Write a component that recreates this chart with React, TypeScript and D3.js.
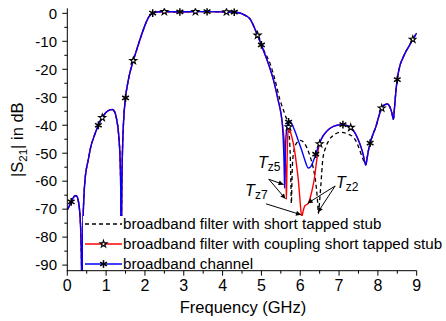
import React from "react";
import * as d3 from "d3";

type Pt = [number, number];

// Response shared by all three filters below 5 GHz (frequency GHz, |S21| dB)
const commonLow: Pt[] = [
  [0.0, -70.2], [0.05, -68.9], [0.1, -67.4], [0.15, -66.0], [0.2, -65.2], [0.24, -65.3],
  [0.28, -66.8], [0.31, -69.5], [0.335, -74], [0.355, -82], [0.37, -95], [0.375, -105],
  [0.385, -95], [0.395, -82], [0.41, -72], [0.43, -65], [0.456, -59.5], [0.5, -55],
  [0.54, -52.4], [0.6, -48], [0.7, -43.6], [0.8, -40.0], [0.9, -37.3], [1.0, -35.4],
  [1.1, -34.5], [1.16, -34.4], [1.22, -35.2], [1.27, -37.8], [1.31, -41.5], [1.34, -46.5],
  [1.36, -52], [1.375, -62], [1.385, -80], [1.39, -100], [1.395, -80], [1.405, -62],
  [1.42, -50], [1.45, -38.5], [1.49, -31.2], [1.55, -25.5], [1.6, -22], [1.7, -16.9],
  [1.8, -12.5], [1.9, -8.2], [2.0, -4.3], [2.1, -1.3], [2.2, 0.1], [2.3, 0.5], [2.5, 0.6],
  [2.9, 0.5], [3.3, 0.6], [3.6, 0.6], [4.1, 0.5], [4.3, 0.45], [4.42, 0.2], [4.52, -0.3],
  [4.62, -1.0], [4.7, -1.9], [4.8, -4.5], [4.89, -7.5], [5.0, -11.3],
];

// Upper stopband, common to all three filters
const commonHigh: Pt[] = [
  [7.69, -54.2], [7.72, -52.0], [7.76, -48.8], [7.8, -46.4], [7.88, -43.0], [7.95, -40.5],
  [8.02, -37.0], [8.1, -33.9], [8.18, -32.6], [8.25, -32.4], [8.31, -33.5], [8.36, -35.6],
  [8.4, -37.9], [8.43, -33.5], [8.47, -27.0], [8.51, -22.6], [8.57, -18.6], [8.64, -16.1],
  [8.72, -13.7], [8.8, -11.8], [8.9, -9.3], [9.0, -7.1],
];

// Broadband channel, 5–7.7 GHz
const channelMid: Pt[] = [
  [5.1, -15.0], [5.18, -18.0], [5.31, -23.8], [5.43, -31.0], [5.5, -35.5], [5.54, -40],
  [5.565, -46], [5.58, -52], [5.59, -58], [5.597, -62.5], [5.605, -56], [5.62, -48],
  [5.645, -42], [5.68, -39.2], [5.72, -38.5], [5.77, -39.2], [5.82, -40.6], [5.87, -42.3],
  [5.95, -45.5], [6.04, -49.0], [6.12, -52.5], [6.21, -55.3], [6.28, -54.6], [6.36, -52.0],
  [6.44, -48.7], [6.5, -46.4], [6.58, -44.0], [6.68, -42.2], [6.8, -40.8], [6.95, -40.0],
  [7.1, -39.8], [7.2, -40.1], [7.31, -40.9], [7.42, -43.0], [7.5, -45.4], [7.56, -47.6],
  [7.62, -50.4], [7.66, -53.0],
];

// Filter with coupling short tapped stub, 5–7.7 GHz
const couplingMid: Pt[] = [
  [5.1, -15.0], [5.18, -18.0], [5.31, -23.8], [5.43, -31.0], [5.5, -35.5], [5.55, -40.5],
  [5.59, -46], [5.615, -52], [5.63, -58], [5.645, -66.5], [5.655, -58], [5.665, -50],
  [5.68, -43.5], [5.7, -40.6], [5.73, -41.5], [5.78, -44.0], [5.82, -46.4], [5.87, -50.5],
  [5.91, -54.8], [5.95, -59.5], [5.98, -64.3], [6.01, -69.5], [6.04, -72.8], [6.07, -71.0],
  [6.12, -68.8], [6.19, -68.2], [6.22, -67.6], [6.27, -65.2], [6.32, -62.3], [6.37, -58.5],
  [6.42, -53.0], [6.47, -48.3], [6.52, -45.6], [6.58, -44.0], [6.68, -42.2], [6.8, -40.8],
  [6.95, -40.0], [7.1, -39.8], [7.2, -40.1], [7.31, -40.9], [7.42, -43.0], [7.5, -45.4],
  [7.56, -47.6], [7.62, -50.4], [7.66, -53.0],
];

// Filter with short tapped stub, 5–7.7 GHz
const shortStubMid: Pt[] = [
  [5.1, -14.3], [5.22, -17.8], [5.35, -23.8], [5.48, -31.0], [5.61, -36.3], [5.69, -40.0],
  [5.72, -44], [5.745, -52], [5.76, -61], [5.772, -68], [5.785, -61], [5.8, -54],
  [5.84, -49], [5.91, -46.3], [6.0, -45.4], [6.08, -46.0], [6.17, -48.0], [6.25, -51.0],
  [6.33, -55.0], [6.4, -60.5], [6.44, -66], [6.47, -71.5], [6.5, -67], [6.535, -60.7],
  [6.58, -52.4], [6.66, -47.8], [6.75, -45.2], [6.9, -43.2], [7.05, -42.5], [7.2, -43.0],
  [7.39, -44.6], [7.48, -47.0], [7.56, -50.0], [7.63, -52.6], [7.66, -53.6],
];

// Frequencies carrying symbols
const channelMarkerFreqs = [0.1, 0.8, 1.5, 2.2, 2.9, 3.6, 4.3, 5.0, 5.7, 6.4, 7.1, 7.8, 8.5];
const couplingMarkerFreqs = [0.9, 1.7, 2.5, 3.3, 4.1, 4.9, 5.7, 6.5, 7.3, 8.1, 8.9];

const xTicks = [0, 1, 2, 3, 4, 5, 6, 7, 8, 9];
const xMinorTicks = [0.5, 1.5, 2.5, 3.5, 4.5, 5.5, 6.5, 7.5, 8.5];
const yTicks = [0, -10, -20, -30, -40, -50, -60, -70, -80, -90];
const yMinorTicks = [-5, -15, -25, -35, -45, -55, -65, -75, -85];

const legendLabels = [
  "broadband filter with short tapped stub",
  "broadband filter with coupling short tapped stub",
  "broadband channel",
];

// Transmission-zero callouts (data units)
const zeroNotes = [
  { id: "z5", at: [4.91, -55.3] as Pt, from: [5.19, -59.3] as Pt, to: [[5.57, -61.2], [5.62, -66.3]] as Pt[] },
  { id: "z7", at: [4.58, -65.3] as Pt, from: [5.12, -68.1] as Pt, to: [[6.02, -72.0]] as Pt[] },
  { id: "z2", at: [6.92, -62.4] as Pt, from: [6.9, -61.7] as Pt, to: [[6.19, -67.9], [6.455, -71.1]] as Pt[] },
];

const FONT = "'Liberation Sans', Arial, sans-serif";
const W = 446;
const H = 321;

const x = d3.scaleLinear().domain([0, 9]).range([67.3, 416.7]);
const y = d3.scaleLinear().domain([-92, 1.8]).range([270.7, 8.3]);

const channel = [...commonLow, ...channelMid, ...commonHigh];
const coupling = [...commonLow, ...couplingMid, ...commonHigh];
const shortStub = [...commonLow, ...shortStubMid, ...commonHigh];

const line = d3
  .line<Pt>()
  .x((d) => x(d[0]))
  .y((d) => y(d[1]))
  .curve(d3.curveMonotoneX);

function valueAt(series: Pt[], f: number): number {
  const i = d3.bisector((d: Pt) => d[0]).left(series, f);
  if (i <= 0) return series[0][1];
  if (i >= series.length) return series[series.length - 1][1];
  const a = series[i - 1];
  const b = series[i];
  const t = (f - a[0]) / (b[0] - a[0]);
  return a[1] + t * (b[1] - a[1]);
}

function Asterisk({ cx, cy, r = 3.9 }: { cx: number; cy: number; r?: number }) {
  const arms = [90, 30, -30];
  return (
    <g stroke="#000" strokeWidth={1.5}>
      {arms.map((a) => {
        const rad = (a * Math.PI) / 180;
        const dx = r * Math.cos(rad);
        const dy = r * Math.sin(rad);
        return <line key={a} x1={cx - dx} y1={cy - dy} x2={cx + dx} y2={cy + dy} />;
      })}
    </g>
  );
}

const starPath = d3.symbol(d3.symbolStar, 15)() as string;

function Star({ cx, cy }: { cx: number; cy: number }) {
  return <path d={starPath} transform={`translate(${cx},${cy})`} fill="#fff" stroke="#000" strokeWidth={1.1} />;
}

export default function App() {
  const [x0, x1] = x.range();
  const [yb, yt] = y.range();
  const legendRows = [224, 244, 264];

  return (
    <svg width={W} height={H} style={{ position: "absolute", left: 0, top: 0, background: "#fff" }} fontFamily={FONT}>
      <defs>
        <clipPath id="plot">
          <rect x={x0} y={yt} width={x1 - x0} height={yb - yt} />
        </clipPath>
        <marker id="head" viewBox="0 0 10 10" refX="10" refY="5" markerWidth="7" markerHeight="5" orient="auto" markerUnits="userSpaceOnUse">
          <path d="M0,0 L10,5 L0,10 z" fill="#000" />
        </marker>
      </defs>

      <g clipPath="url(#plot)">
        <path d={line(shortStub) ?? ""} fill="none" stroke="#000" strokeWidth={1.3} strokeDasharray="4,3" />
        <path d={line(coupling) ?? ""} fill="none" stroke="#ff0000" strokeWidth={1.4} />
        <path d={line(channel) ?? ""} fill="none" stroke="#0000ff" strokeWidth={1.4} />
        {couplingMarkerFreqs.map((f) => (
          <Star key={`s${f}`} cx={x(f)} cy={y(valueAt(coupling, f))} />
        ))}
        {channelMarkerFreqs.map((f) => (
          <Asterisk key={`a${f}`} cx={x(f)} cy={y(valueAt(channel, f))} />
        ))}
      </g>

      {/* transmission-zero callouts */}
      {zeroNotes.map((n) => (
        <g key={n.id}>
          <text x={x(n.at[0])} y={y(n.at[1])} fontSize={16} fontStyle="italic">
            T
            <tspan fontStyle="normal" fontSize={12} dy={3}>
              {n.id}
            </tspan>
          </text>
          {n.to.map((p, i) => (
            <line key={i} x1={x(n.from[0])} y1={y(n.from[1])} x2={x(p[0])} y2={y(p[1])} stroke="#000" strokeWidth={1} markerEnd="url(#head)" />
          ))}
        </g>
      ))}

      {/* legend */}
      <rect x={83} y={216} width={W - 83} height={yb - 216} fill="#fff" />
      {legendLabels.map((label, i) => {
        const cy = legendRows[i];
        return (
          <g key={label}>
            {i === 0 && <line x1={85} x2={122} y1={cy} y2={cy} stroke="#000" strokeWidth={1.3} strokeDasharray="4,3" />}
            {i === 1 && (
              <>
                <line x1={85} x2={122} y1={cy} y2={cy} stroke="#ff0000" strokeWidth={1.4} />
                <Star cx={103.5} cy={cy} />
              </>
            )}
            {i === 2 && (
              <>
                <line x1={85} x2={122} y1={cy} y2={cy} stroke="#0000ff" strokeWidth={1.4} />
                <Asterisk cx={103.5} cy={cy} />
              </>
            )}
            <text x={123} y={cy + 5.3} fontSize={15.2}>
              {label}
            </text>
          </g>
        );
      })}

      {/* axes */}
      <g stroke="#000" strokeWidth={1}>
        <line x1={x0} x2={x0} y1={yt} y2={yb + 0.5} />
        <line x1={x0 - 0.5} x2={x1} y1={yb} y2={yb} />
        {xTicks.map((t) => (
          <line key={`xt${t}`} x1={x(t)} x2={x(t)} y1={yb} y2={yb + 5} />
        ))}
        {xMinorTicks.map((t) => (
          <line key={`xm${t}`} x1={x(t)} x2={x(t)} y1={yb} y2={yb + 3} />
        ))}
        {yTicks.map((t) => (
          <line key={`yt${t}`} x1={x0 - 5} x2={x0} y1={y(t)} y2={y(t)} />
        ))}
        {yMinorTicks.map((t) => (
          <line key={`ym${t}`} x1={x0 - 3} x2={x0} y1={y(t)} y2={y(t)} />
        ))}
      </g>
      {xTicks.map((t) => (
        <text key={`xl${t}`} x={x(t)} y={290.5} fontSize={16} textAnchor="middle">
          {t}
        </text>
      ))}
      {yTicks.map((t) => (
        <text key={`yl${t}`} x={57} y={y(t) + 5.3} fontSize={15} textAnchor="end">
          {t}
        </text>
      ))}
      <text x={(x0 + x1) / 2 + 1} y={313} fontSize={16.5} textAnchor="middle">
        Frequency (GHz)
      </text>
      <text transform={`translate(23,177) rotate(-90)`} fontSize={16.5}>
        |S
        <tspan fontSize={11.5} dy={4}>
          21
        </tspan>
        <tspan dy={-4}>| in dB</tspan>
      </text>
    </svg>
  );
}
